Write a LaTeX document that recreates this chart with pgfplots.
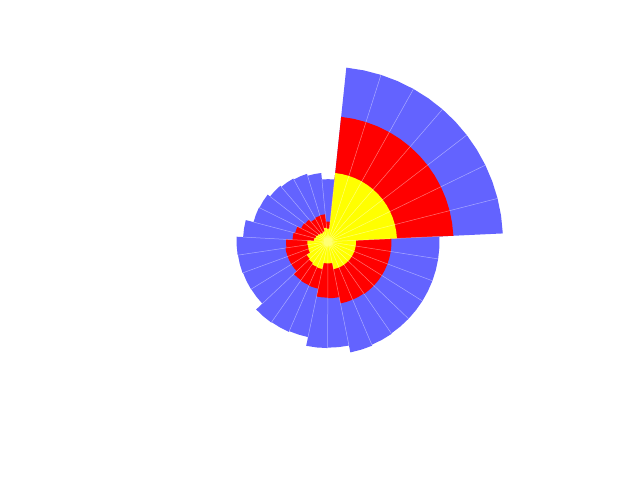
\documentclass[border=0pt]{standalone}
\usepackage{pgfplots}
\pgfplotsset{compat=1.18}
\usepgfplotslibrary{polar}
\usepackage{pgfplotstable}
\definecolor{cblue}{RGB}{99,99,255}
\definecolor{cred}{RGB}{255,0,0}
\definecolor{cyellow}{RGB}{255,255,0}
% sector outlines: angle, yellow, red (cumulative), blue (cumulative)
\pgfplotstableread{
t y r b
2.70 0 0 0
2.70 69 125.5 175
8.51 69 125.5 175
14.31 69 125.5 175
14.31 69 125.5 175
20.12 69 125.5 175
25.93 69 125.5 175
25.93 69 125.5 175
31.74 69 125.5 175
37.54 69 125.5 175
37.54 69 125.5 175
43.35 69 125.5 175
49.15 69 125.5 175
49.15 69 125.5 175
54.96 69 125.5 175
60.76 69 125.5 175
60.76 69 125.5 175
66.57 69 125.5 175
72.38 69 125.5 175
72.38 69 125.5 175
78.19 69 125.5 175
83.99 69 125.5 175
83.99 13 20 62.5
89.80 13 20 62.5
95.60 13 20 62.5
95.60 14 27.5 69
101.41 14 27.5 69
107.22 14 27.5 69
107.22 11 27 71
113.03 11 27 71
118.83 11 27 71
118.83 10 26 72
124.64 10 26 72
130.44 10 26 72
130.44 11 29 73.5
136.25 11 29 73.5
142.05 11 29 73.5
142.05 12 30 76.5
147.86 12 30 76.5
153.67 12 30 76.5
153.67 13 34 77
159.48 13 34 77
165.28 13 34 77
165.28 14 35.5 85
171.09 14 35.5 85
176.89 14 35.5 85
176.89 20.7 42 91.4
182.70 20.7 42 91.4
188.51 20.7 42 91.4
188.51 20.5 43 91
194.32 20.5 43 91
200.12 20.5 43 91
200.12 21 43 90.5
205.93 21 43 90.5
211.73 21 43 90.5
211.73 25 43 90.3
217.54 25 43 90.3
223.35 25 43 90.3
223.35 26 47 98.8
229.15 26 47 98.8
234.96 26 47 98.8
234.96 27.5 47.5 98.3
240.77 27.5 47.5 98.3
246.57 27.5 47.5 98.3
246.57 27.9 48 97.5
252.38 27.9 48 97.5
258.18 27.9 48 97.5
258.18 21.7 56 106.4
263.99 21.7 56 106.4
269.80 21.7 56 106.4
269.80 21.7 56.6 106
275.61 21.7 56.6 106
281.41 21.7 56.6 106
281.41 28 63 113
287.22 28 63 113
293.02 28 63 113
293.02 28 63 112
298.83 28 63 112
304.64 28 63 112
304.64 28 63.5 111.5
310.44 28 63.5 111.5
316.25 28 63.5 111.5
316.25 28 63.5 111.5
322.06 28 63.5 111.5
327.86 28 63.5 111.5
327.86 28 63.5 111.5
333.67 28 63.5 111.5
339.47 28 63.5 111.5
339.47 28 63.5 111.5
345.28 28 63.5 111.5
351.09 28 63.5 111.5
351.09 28 63.5 111.5
356.89 28 63.5 111.5
362.70 28 63.5 111.5
362.70 0 0 0
}\sectors
% white separators between neighbouring sectors
\pgfplotstableread{
t r
2.70 0
2.70 111.5
nan nan
14.31 0
14.31 175
nan nan
25.93 0
25.93 175
nan nan
37.54 0
37.54 175
nan nan
49.15 0
49.15 175
nan nan
60.76 0
60.76 175
nan nan
72.38 0
72.38 175
nan nan
83.99 0
83.99 62.5
nan nan
95.60 0
95.60 62.5
nan nan
107.22 0
107.22 69
nan nan
118.83 0
118.83 71
nan nan
130.44 0
130.44 72
nan nan
142.05 0
142.05 73.5
nan nan
153.67 0
153.67 76.5
nan nan
165.28 0
165.28 77
nan nan
176.89 0
176.89 85
nan nan
188.51 0
188.51 91
nan nan
200.12 0
200.12 90.5
nan nan
211.73 0
211.73 90.3
nan nan
223.35 0
223.35 90.3
nan nan
234.96 0
234.96 98.3
nan nan
246.57 0
246.57 97.5
nan nan
258.18 0
258.18 97.5
nan nan
269.80 0
269.80 106
nan nan
281.41 0
281.41 106
nan nan
293.02 0
293.02 112
nan nan
304.64 0
304.64 111.5
nan nan
316.25 0
316.25 111.5
nan nan
327.86 0
327.86 111.5
nan nan
339.47 0
339.47 111.5
nan nan
351.09 0
351.09 111.5
}\seps
\begin{document}
\begin{tikzpicture}
\path[use as bounding box] (0bp,0bp) rectangle (640bp,480bp);
\begin{polaraxis}[
  hide axis,
  scale only axis,
  width=350bp, height=350bp,
  xmin=0, xmax=360, ymin=0, ymax=175,
  clip=false,
  at={(328bp,238.33bp)}, anchor=center,
  unbounded coords=jump,
]
\addplot[draw=none, fill=cblue] table[x=t, y=b] {\sectors};
\addplot[draw=none, fill=cred] table[x=t, y=r] {\sectors};
\addplot[draw=none, fill=cyellow] table[x=t, y=y] {\sectors};
\addplot[draw=white, opacity=0.45, line width=0.5bp] table[x=t, y=r] {\seps};
\end{polaraxis}
\end{tikzpicture}
\end{document}
